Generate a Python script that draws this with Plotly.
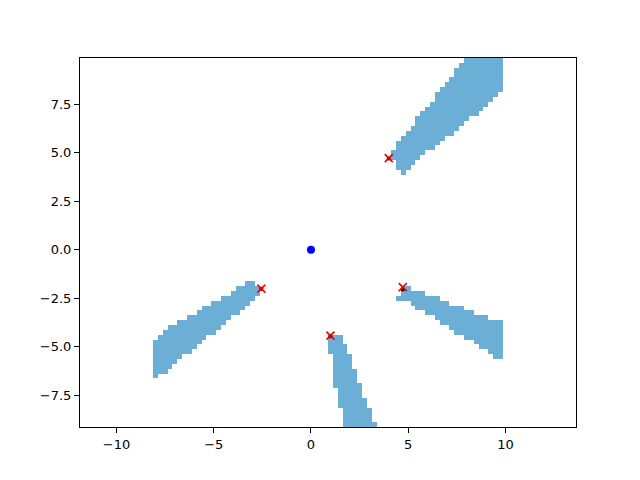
import numpy as np
import plotly.graph_objects as go

# --- data (grid cells of 0.25, column centres with lowest / highest cell centre) ---
cell = 0.25

a_x = [4.25, 4.5, 4.75, 5.0, 5.25, 5.5, 5.75, 6.0, 6.25, 6.5, 6.75, 7.0, 7.25, 7.5, 7.75,
       8.0, 8.25, 8.5, 8.75, 9.0, 9.25, 9.5, 9.75]
a_lo = [4.75, 4.25, 4.0, 4.25, 4.5, 4.75, 5.0, 5.25, 5.25, 5.5, 5.75, 6.0, 6.0, 6.25, 6.5,
        6.75, 7.0, 7.0, 7.25, 7.5, 7.75, 8.0, 8.25]
a_hi = [5.0, 5.5, 5.75, 6.0, 6.25, 6.75, 7.0, 7.25, 7.5, 8.0, 8.25, 8.5, 8.75, 9.25, 9.5,
        9.75, 9.75, 9.75, 9.75, 9.75, 9.75, 9.75, 9.75]

b_x = [4.5, 4.75, 5.0, 5.25, 5.5, 5.75, 6.0, 6.25, 6.5, 6.75, 7.0, 7.25, 7.5, 7.75, 8.0,
       8.25, 8.5, 8.75, 9.0, 9.25, 9.5, 9.75]
b_hi = [-2.5, -2.0, -2.0, -2.25, -2.25, -2.25, -2.5, -2.5, -2.5, -2.75, -2.75, -3.0, -3.0, -3.0,
        -3.25, -3.25, -3.5, -3.5, -3.5, -3.75, -3.75, -3.75]
b_lo = [-2.5, -2.5, -2.5, -2.75, -3.0, -3.0, -3.25, -3.25, -3.5, -3.75, -3.75, -4.0, -4.25, -4.25,
        -4.5, -4.5, -4.75, -5.0, -5.0, -5.25, -5.5, -5.5]

c_x = [-8.0, -7.75, -7.5, -7.25, -7.0, -6.75, -6.5, -6.25, -6.0, -5.75, -5.5, -5.25, -5.0,
       -4.75, -4.5, -4.25, -4.0, -3.75, -3.5, -3.25, -3.0, -2.75]
c_hi = [-4.75, -4.5, -4.25, -4.0, -4.0, -3.75, -3.75, -3.5, -3.5, -3.25, -3.0, -3.0, -2.75,
        -2.75, -2.5, -2.5, -2.25, -2.0, -2.0, -1.75, -1.75, -2.0]
c_lo = [-6.5, -6.25, -6.25, -6.0, -5.75, -5.5, -5.25, -5.25, -5.0, -4.75, -4.5, -4.25, -4.25,
        -4.0, -3.75, -3.5, -3.25, -3.25, -3.0, -2.75, -2.5, -2.25]

d_x = [1.0, 1.25, 1.5, 1.75, 2.0, 2.25, 2.5, 2.75, 3.0, 3.25]
d_hi = [-4.5, -4.5, -4.5, -5.0, -5.5, -6.25, -7.0, -7.75, -8.25, -9.0]
d_lo = [-5.25, -7.0, -8.0, -9.0, -9.0, -9.0, -9.0, -9.0, -9.0, -9.0]

grid_x_min, grid_x_max = -8.0, 9.75
grid_y_min, grid_y_max = -9.0, 9.75

sensor_x = [0.0]
sensor_y = [0.0]

obstacle_x = [4.0, 4.72, -2.55, 1.0]
obstacle_y = [4.72, -1.92, -2.0, -4.42]
dot_x = [4.0, 4.72, -2.55, 1.0]
dot_y = [4.7, -2.05, -2.0, -4.45]

x_ticks = [-10, -5, 0, 5, 10]
y_ticks = [-7.5, -5.0, -2.5, 0.0, 2.5, 5.0, 7.5]

# --- build occupancy grid ---
gx = np.arange(grid_x_min, grid_x_max + cell / 2, cell)
gy = np.arange(grid_y_min, grid_y_max + cell / 2, cell)
z = np.full((len(gy), len(gx)), np.nan)
for xs, los, his in [(a_x, a_lo, a_hi), (b_x, b_lo, b_hi), (c_x, c_lo, c_hi), (d_x, d_lo, d_hi)]:
    for xc, lo, hi in zip(xs, los, his):
        i = int(round((xc - grid_x_min) / cell))
        j0 = int(round((lo - grid_y_min) / cell))
        j1 = int(round((hi - grid_y_min) / cell))
        z[j0:j1 + 1, i] = 1.0

shade = "#6baed6"
fig = go.Figure()
fig.add_trace(go.Heatmap(x=gx, y=gy, z=z, colorscale=[[0, shade], [1, shade]],
                         showscale=False, hoverongaps=False, zmin=0, zmax=1))
fig.add_trace(go.Scatter(x=sensor_x, y=sensor_y, mode="markers",
                         marker=dict(color="#0000ff", size=8), showlegend=False))
fig.add_trace(go.Scatter(x=dot_x, y=dot_y, mode="markers",
                         marker=dict(color="#000000", size=4), showlegend=False))
fig.add_trace(go.Scatter(x=obstacle_x, y=obstacle_y, mode="markers",
                         marker=dict(symbol="x-thin", size=8, line=dict(color="#ee0000", width=1.6)),
                         showlegend=False))

axis_common = dict(showline=True, mirror=True, linecolor="black", linewidth=1,
                   ticks="outside", ticklen=5, tickcolor="black", tickwidth=1,
                   showgrid=False, zeroline=False,
                   tickfont=dict(family="DejaVu Sans", size=13, color="black"))
fig.update_layout(
    width=632, height=472, autosize=False,
    margin=dict(l=72, r=64, t=50, b=53),
    paper_bgcolor="white", plot_bgcolor="white",
    xaxis=dict(range=[-11.875, 13.625], tickvals=x_ticks, **axis_common),
    yaxis=dict(range=[-9.125, 9.875], tickvals=y_ticks, tickformat=".1f", **axis_common),
    showlegend=False,
)
fig.write_html("out.html")
